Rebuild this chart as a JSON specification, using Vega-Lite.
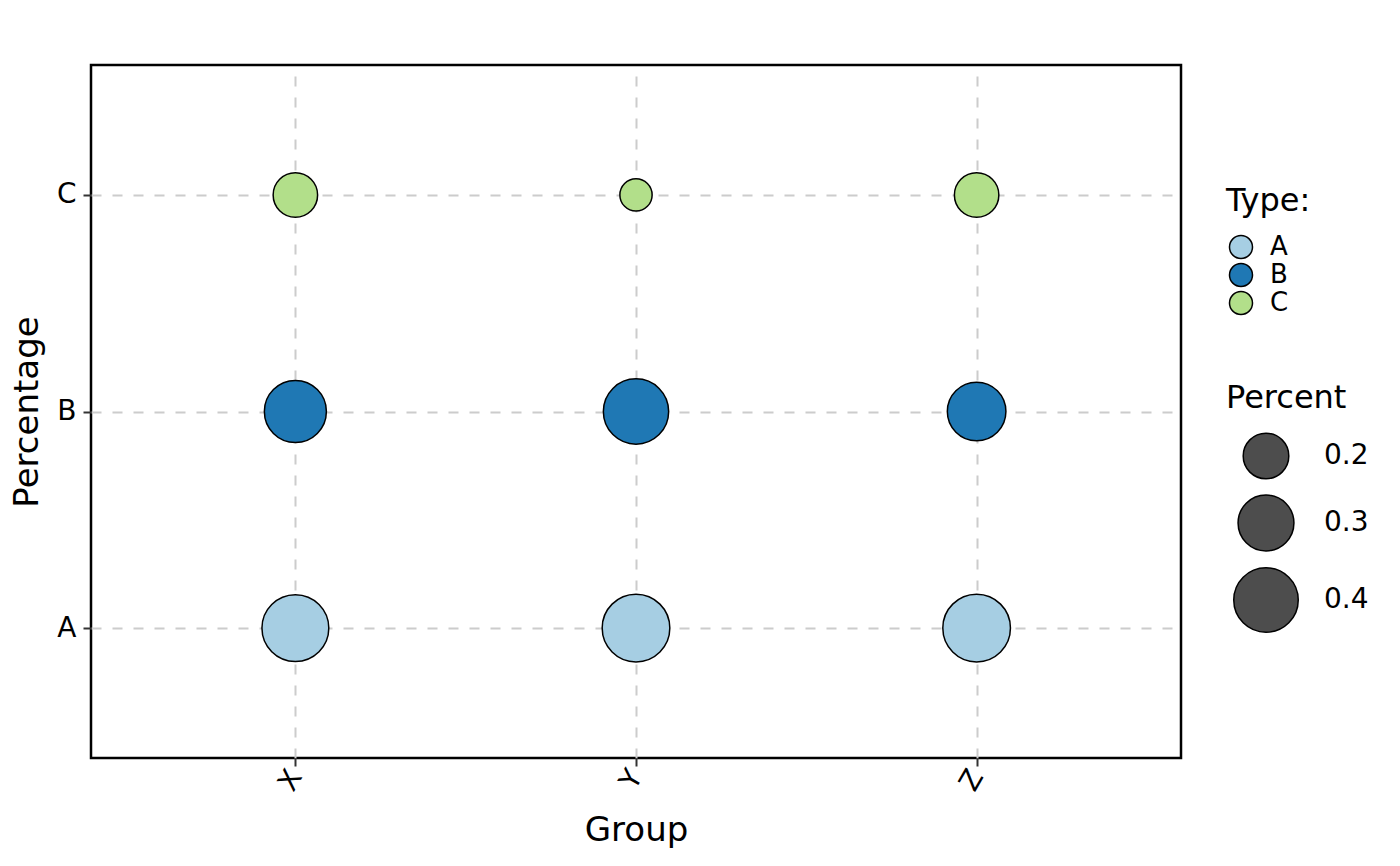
{
  "$schema": "https://vega.github.io/schema/vega-lite/v6.json",
  "autosize": {"type": "none"},
  "padding": {"left": 91, "top": 65, "right": 219, "bottom": 108},
  "width": 1090,
  "height": 693,
  "background": "white",
  "data": {
    "values": [
      {"Group": "X", "Type": "A", "Percent": 0.43},
      {"Group": "X", "Type": "B", "Percent": 0.37},
      {"Group": "X", "Type": "C", "Percent": 0.19},
      {"Group": "Y", "Type": "A", "Percent": 0.44},
      {"Group": "Y", "Type": "B", "Percent": 0.41},
      {"Group": "Y", "Type": "C", "Percent": 0.10},
      {"Group": "Z", "Type": "A", "Percent": 0.44},
      {"Group": "Z", "Type": "B", "Percent": 0.33},
      {"Group": "Z", "Type": "C", "Percent": 0.19}
    ]
  },
  "mark": {"type": "circle", "opacity": 1, "stroke": "black", "strokeWidth": 1.5},
  "encoding": {
    "x": {
      "field": "Group", "type": "nominal",
      "scale": {"type": "point", "padding": 0.6},
      "axis": {"title": "Group", "labelAngle": -60, "labelAlign": "right", "labelBaseline": "middle", "labelPadding": 6, "titlePadding": 18}
    },
    "y": {
      "field": "Type", "type": "nominal",
      "scale": {"type": "point", "padding": 0.6, "domain": ["C", "B", "A"]},
      "axis": {"title": "Percentage", "labelAngle": 0, "labelPadding": 7, "titlePadding": 12}
    },
    "color": {
      "field": "Type", "type": "nominal",
      "scale": {"domain": ["A", "B", "C"], "range": ["#A6CEE3", "#1F78B4", "#B2DF8A"]},
      "legend": {
        "title": "Type:", "orient": "none", "legendX": 1135, "legendY": 121,
        "symbolType": "circle", "symbolSize": 530, "symbolStrokeColor": "black", "symbolStrokeWidth": 1.5,
        "symbolOpacity": 1, "symbolOffset": 2,
        "labelFontSize": 26, "labelOffset": 16, "rowPadding": -3, "titlePadding": 16,
        "encode": {"symbols": {"update": {"stroke": {"value": "black"}, "strokeWidth": {"value": 1.5}, "opacity": {"value": 1}}}}
      }
    },
    "size": {
      "field": "Percent", "type": "quantitative",
      "scale": {"domain": [0, 0.5], "range": [0, 5200], "zero": true},
      "legend": {
        "title": "Percent", "orient": "none", "legendX": 1135, "legendY": 318,
        "values": [0.2, 0.3, 0.4], "format": ".1f",
        "symbolType": "circle", "symbolOffset": 7, "labelOffset": 25, "rowPadding": 10, "titlePadding": 17,
        "symbolFillColor": "#4D4D4D", "symbolStrokeColor": "black", "symbolStrokeWidth": 1.5,
        "encode": {"symbols": {"enter": {"fill": {"value": "#4D4D4D"}}, "update": {"fill": {"value": "#4D4D4D"}, "stroke": {"value": "black"}, "strokeWidth": {"value": 1.5}, "opacity": {"value": 1}}}}
      }
    }
  },
  "config": {
    "font": "DejaVu Sans",
    "view": {"stroke": "black", "strokeWidth": 2.5},
    "axis": {
      "domain": false,
      "grid": true, "gridColor": "#CCCCCC", "gridDash": [10, 11], "gridWidth": 2,
      "ticks": true, "tickSize": 8, "tickWidth": 2, "tickColor": "#333333",
      "labelFont": "DejaVu Sans", "labelFontSize": 28, "labelColor": "black",
      "titleFont": "DejaVu Sans", "titleFontSize": 34, "titleFontWeight": "normal", "titleColor": "black"
    },
    "legend": {
      "titleFont": "DejaVu Sans", "titleFontSize": 32, "titleFontWeight": "normal", "titleColor": "black",
      "labelFont": "DejaVu Sans", "labelFontSize": 28, "labelColor": "black"
    }
  }
}
